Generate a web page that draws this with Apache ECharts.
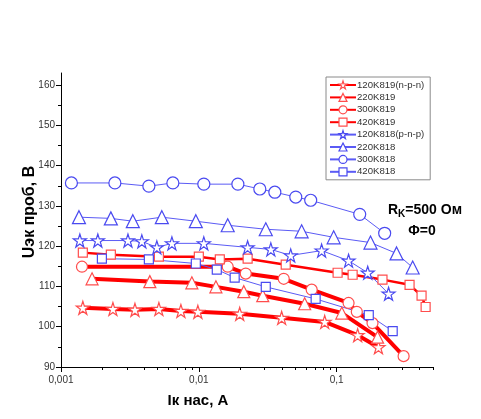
<!DOCTYPE html>
<html>
<head>
<meta charset="utf-8">
<script src="https://cdn.jsdelivr.net/npm/echarts@6/dist/echarts.min.js"></script>
<style>
  html, body { margin: 0; padding: 0; background: #fff; }
  #chart { width: 481px; height: 419px; }
</style>
</head>
<body>
<div id="chart"></div>
<script>
// --- data ---
var names = ['120K819(n-p-n)', '220K819', '300K819', '420K819',
             '120K818(p-n-p)', '220K818', '300K818', '420K818'];

var x120K819 = [0.00144, 0.00238, 0.00344, 0.00513, 0.00741, 0.00984, 0.0198, 0.0399, 0.0819, 0.142, 0.201];
var y120K819 = [104.7, 104.4, 104.2, 104.4, 103.9, 103.7, 103.2, 102.2, 101.2, 97.9, 94.9];

var x220K819 = [0.00168, 0.00441, 0.0089, 0.0133, 0.0212, 0.0291, 0.0586, 0.109, 0.198];
var y220K819 = [111.9, 111.2, 110.9, 109.9, 108.7, 107.7, 105.7, 103.4, 97.4];

var x300K819 = [0.00142, 0.0162, 0.0219, 0.0413, 0.0659, 0.122, 0.14, 0.182, 0.306];
var y300K819 = [114.9, 114.9, 113.2, 111.9, 109.2, 105.9, 103.7, 100.9, 92.7];

var x420K819 = [0.00144, 0.0023, 0.00513, 0.01, 0.0142, 0.0226, 0.0427, 0.1016, 0.1306, 0.215, 0.338, 0.413, 0.442];
var y420K819 = [118.4, 117.9, 117.4, 117.4, 116.7, 116.9, 115.4, 113.4, 112.9, 111.7, 110.4, 107.7, 104.9];

var x120K818 = [0.00137, 0.00185, 0.00306, 0.00386, 0.00496, 0.00638, 0.01087, 0.0226, 0.0333, 0.0464, 0.0778, 0.122, 0.168, 0.238];
var y120K818 = [121.4, 121.4, 121.4, 121.2, 119.7, 120.7, 120.7, 119.7, 119.2, 117.7, 118.9, 116.4, 113.4, 108.2];

var x220K818 = [0.00135, 0.0023, 0.00332, 0.00539, 0.00951, 0.0162, 0.0306, 0.0557, 0.0951, 0.176, 0.272, 0.356];
var y220K818 = [127.2, 126.9, 126.2, 127.2, 126.2, 125.2, 124.2, 123.7, 122.2, 120.9, 118.2, 114.7];

var x300K818 = [0.00119, 0.00246, 0.00434, 0.00648, 0.01087, 0.0192, 0.0277, 0.0356, 0.0505, 0.0648, 0.147, 0.223];
var y300K818 = [135.7, 135.7, 134.9, 135.7, 135.4, 135.4, 134.2, 133.4, 132.2, 131.4, 127.9, 123.2];

var x420K818 = [0.00198, 0.00434, 0.00951, 0.0135, 0.0182, 0.0306, 0.0704, 0.171, 0.255];
var y420K818 = [116.9, 116.7, 115.7, 114.2, 112.2, 109.9, 106.9, 102.9, 98.9];

var xMajor = [0.001, 0.01, 0.1];
var yMajor = [90, 100, 110, 120, 130, 140, 150, 160];
var yMinor = [95, 105, 115, 125, 135, 145, 155];

// minor ticks of the log axis: 2..9 of every decade
var xMinor = [];
[0.001, 0.01, 0.1].forEach(function (d) {
    for (var k = 2; k <= 9; k++) {
        if (d * k <= 0.5) xMinor.push(+(d * k).toPrecision(3));
    }
});

function pairs(xs, ys) {
    return xs.map(function (x, i) { return [x, ys[i]]; });
}

var STAR = 'path://M50,2 L61,36 L97,36 L68,57 L79,92 L50,71 L21,92 L32,57 L3,36 L39,36 Z';
var RED = '#ff0000', REDM = '#ff4d4d';
var BLUE = '#5b5bf5', BLUEM = '#4a4af0';

function mk(name, xs, ys, sym, size, color, mcolor, width) {
    return {
        name: name,
        type: 'line',
        xAxisIndex: 0,
        yAxisIndex: 0,
        data: pairs(xs, ys),
        symbol: sym,
        symbolSize: size,
        showAllSymbol: true,
        color: color,
        lineStyle: { color: color, width: width },
        itemStyle: { color: '#fff', borderColor: mcolor, borderWidth: 1.2 },
        emphasis: { disabled: true },
        animation: false
    };
}

var series = [
    mk(names[0], x120K819, y120K819, STAR, 13, RED, REDM, 4),
    mk(names[1], x220K819, y220K819, 'triangle', 12, RED, REDM, 4),
    mk(names[2], x300K819, y300K819, 'circle', 11, RED, REDM, 4),
    mk(names[3], x420K819, y420K819, 'rect', 9, RED, REDM, 2.5),
    mk(names[4], x120K818, y120K818, STAR, 13, BLUE, BLUEM, 1),
    mk(names[5], x220K818, y220K818, 'triangle', 13, BLUE, BLUEM, 1),
    mk(names[6], x300K818, y300K818, 'circle', 12, BLUE, BLUEM, 1),
    mk(names[7], x420K818, y420K818, 'rect', 9, BLUE, BLUEM, 1)
];

var FONT = 'Liberation Sans, Arial, sans-serif';
var gridBox = { left: 61, right: 48, top: 73, bottom: 52 };

var chart = echarts.init(document.getElementById('chart'), null, { renderer: 'canvas' });

var option = {
    animation: false,
    backgroundColor: '#fff',
    grid: gridBox,
    legend: {
        data: names,
        orient: 'vertical',
        left: 326,
        top: 77,
        padding: [3, 6, 3, 3],
        itemGap: 2.4,
        itemWidth: 26,
        itemHeight: 10,
        borderColor: '#8a8a8a',
        borderWidth: 1,
        itemStyle: { color: '#fff', borderColor: 'inherit', borderWidth: 1.2 },
        textStyle: { fontSize: 9.6, color: '#333', fontFamily: FONT, padding: [0, 0, 0, -4] },
        selectedMode: false
    },
    xAxis: [
        {
            type: 'log',
            logBase: 10,
            min: 0.001,
            max: 0.5,
            position: 'bottom',
            axisLine: { show: true, lineStyle: { color: '#000', width: 1 } },
            axisTick: { show: true, inside: false, length: 5, customValues: xMajor, lineStyle: { color: '#000' } },
            axisLabel: {
                customValues: xMajor,
                fontSize: 10, color: '#333', fontFamily: FONT, margin: 8,
                formatter: function (v) { return String(v).replace('.', ','); }
            },
            splitLine: { show: false }
        },
        {
            type: 'log',
            logBase: 10,
            min: 0.001,
            max: 0.5,
            position: 'bottom',
            axisLine: { show: false },
            axisTick: { show: true, inside: false, length: 3, customValues: xMinor, lineStyle: { color: '#000' } },
            axisLabel: { show: false },
            splitLine: { show: false }
        }
    ],
    yAxis: [
        {
            type: 'value',
            min: 90,
            max: 163,
            position: 'left',
            axisLine: { show: true, lineStyle: { color: '#000', width: 1 } },
            axisTick: { show: true, inside: false, length: 5, customValues: yMajor, lineStyle: { color: '#000' } },
            axisLabel: { customValues: yMajor, fontSize: 10, color: '#333', fontFamily: FONT, margin: 6 },
            splitLine: { show: false }
        },
        {
            type: 'value',
            min: 90,
            max: 163,
            position: 'left',
            axisLine: { show: false },
            axisTick: { show: true, inside: false, length: 3, customValues: yMinor, lineStyle: { color: '#000' } },
            axisLabel: { show: false },
            splitLine: { show: false }
        }
    ],
    graphic: [
        {
            type: 'text',
            x: 30,
            y: 212,
            rotation: Math.PI / 2,
            style: {
                text: 'Uэк проб, В',
                font: 'bold 16px ' + FONT,
                fill: '#000',
                align: 'center',
                verticalAlign: 'middle'
            }
        },
        {
            type: 'text',
            x: 198,
            y: 401,
            style: {
                text: 'Iк нас, А',
                font: 'bold 15px ' + FONT,
                fill: '#000',
                align: 'center',
                verticalAlign: 'middle'
            }
        },
        {
            type: 'text',
            x: 425,
            y: 210,
            style: {
                text: '{b|R}{s|K}{b|=500 Ом}',
                align: 'center',
                verticalAlign: 'middle',
                rich: {
                    b: { font: 'bold 14px ' + FONT, fill: '#000' },
                    s: { font: 'bold 10px ' + FONT, fill: '#000', padding: [8, 0, 0, 0] }
                }
            }
        },
        {
            type: 'text',
            x: 422,
            y: 231,
            style: {
                text: 'Φ=0',
                font: 'bold 14px ' + FONT,
                fill: '#000',
                align: 'center',
                verticalAlign: 'middle'
            }
        }
    ],
    series: series
};

chart.setOption(option);
</script>
</body>
</html>
